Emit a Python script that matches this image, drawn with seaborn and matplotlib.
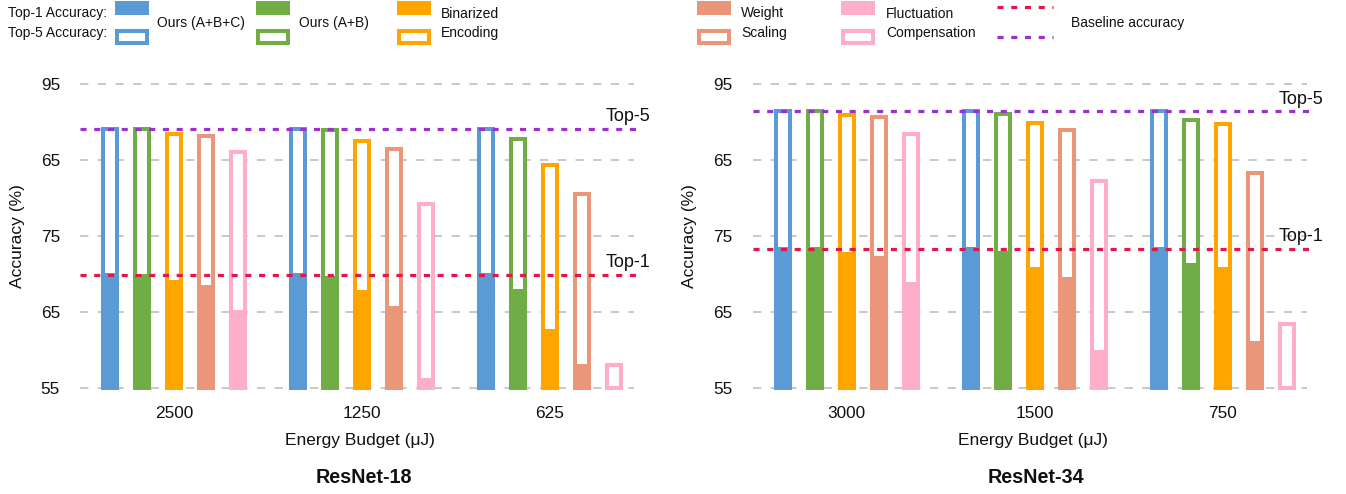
import numpy as np
import pandas as pd
import matplotlib
matplotlib.use("Agg")
import matplotlib.pyplot as plt
from matplotlib.patches import Rectangle
from matplotlib.lines import Line2D
import seaborn as sns

# ---------------------------------------------------------------- data
methods = ["Ours (A+B+C)", "Ours (A+B)", "Binarized Encoding",
           "Weight Scaling", "Fluctuation Compensation"]
colors = ["#5B9BD5", "#70AD47", "#FFA500", "#E9967A", "#FFAEC9"]

ytick_pos = [55, 65, 75, 85, 95]
ytick_labels = ["55", "65", "75", "65", "95"]

# ResNet-18 (rows follow `methods`, columns follow budgets)
r18_budgets = ["2500", "1250", "625"]
r18_top1 = [
    [70.1, 70.1, 70.1],
    [70.0, 69.7, 68.0],
    [69.2, 67.9, 62.8],
    [68.5, 65.8, 58.1],
    [65.2, 56.3, 55.0],
]
r18_top5 = [
    [89.1, 89.1, 89.1],
    [89.1, 88.9, 87.7],
    [88.4, 87.5, 84.3],
    [88.1, 86.4, 80.5],
    [86.0, 79.2, 58.0],
]
r18_base_top1 = 69.9
r18_base_top5 = 89.1

# ResNet-34
r34_budgets = ["3000", "1500", "750"]
r34_top1 = [
    [73.6, 73.6, 73.6],
    [73.6, 73.0, 71.5],
    [72.9, 70.9, 70.9],
    [72.4, 69.6, 61.2],
    [69.0, 60.0, 55.0],
]
r34_top5 = [
    [91.4, 91.4, 91.4],
    [91.4, 91.0, 90.3],
    [90.9, 89.9, 89.8],
    [90.6, 88.9, 83.3],
    [88.4, 82.2, 63.4],
]
r34_base_top1 = 73.3
r34_base_top5 = 91.4

# ---------------------------------------------------------------- style
sns.set_style("white")
plt.rcParams["font.family"] = ["Liberation Sans", "DejaVu Sans"]

W, H = 1346, 494
fig = plt.figure(figsize=(W / 100, H / 100), dpi=100)

Y0 = 55  # bars start at the bottom of the axis
RED = "#E0184A"
PURPLE = "#9B30D0"
GRID = "#C4C4C4"
INK = "#111111"


def long_frame(budgets, values, name):
    rows = []
    for m, row in zip(methods, values):
        for b, v in zip(budgets, row):
            rows.append({"budget": b, "method": m, name: v})
    return pd.DataFrame(rows)


def rebase(patches):
    for p in patches:
        top = p.get_y() + p.get_height()
        p.set_y(Y0)
        p.set_height(max(top - Y0, 0))


def draw_panel(ax, budgets, top1, top5, base1, base5, title):
    df5 = long_frame(budgets, top5, "top5")
    df1 = long_frame(budgets, top1, "top1")

    for y in ytick_pos:
        ax.axhline(y, color=GRID, lw=1.3, ls=(0, (4.6, 5.2)), zorder=1,
                   clip_on=False)

    # Top-5 as hollow bars
    sns.barplot(data=df5, x="budget", y="top5", hue="method", order=budgets,
                hue_order=methods, palette=colors, saturation=1, fill=False,
                linewidth=2.9, width=0.851, gap=0.553, errorbar=None,
                legend=False, ax=ax, zorder=2)
    hollow = list(ax.patches)
    for p in hollow:
        p.set_facecolor("white")
        p.set_clip_on(False)
    rebase(hollow)

    # Top-1 as solid bars
    sns.barplot(data=df1, x="budget", y="top1", hue="method", order=budgets,
                hue_order=methods, palette=colors, saturation=1,
                linewidth=0, width=0.851, gap=0.428, errorbar=None,
                legend=False, ax=ax, zorder=3)
    solid = [p for p in ax.patches if p not in hollow]
    rebase(solid)

    # baseline accuracy lines
    ax.axhline(base5, xmin=0, xmax=1.0145, color=PURPLE, lw=2.3,
               ls=(0, (1.9, 2.4)), zorder=5, clip_on=False)
    ax.axhline(base1, xmin=0, xmax=1.0145, color=RED, lw=2.3,
               ls=(0, (1.9, 2.4)), zorder=5, clip_on=False)
    for lab, val in (("Top-5", base5), ("Top-1", base1)):
        ax.annotate(lab, xy=(0.949, val), xycoords=("axes fraction", "data"),
                    xytext=(0, 2.5), textcoords="offset points", fontsize=13,
                    ha="left", va="bottom", color=INK)

    ax.set_xlim(-0.5, 2.447)
    ax.set_ylim(55, 95)
    ax.set_yticks(ytick_pos)
    ax.set_yticklabels(ytick_labels)
    ax.tick_params(axis="both", length=0, labelsize=12.4, colors=INK)
    ax.tick_params(axis="y", pad=14.4)
    ax.tick_params(axis="x", pad=13.0)
    for s in ax.spines.values():
        s.set_visible(False)

    ax.set_xlabel("Energy Budget (\u03bcJ)", fontsize=12.5, color=INK)
    ax.xaxis.set_label_coords(0.505, -0.149)
    ax.set_ylabel("Accuracy (%)", fontsize=12.5, color=INK)
    ax.yaxis.set_label_coords(-0.100, 0.5)
    ax.text(0.512, -0.296, title, transform=ax.transAxes, ha="center",
            va="center", fontsize=14.2, fontweight="bold", color=INK)


ax1 = fig.add_axes([80 / W, 1 - 388 / H, 554 / W, 304 / H])
ax2 = fig.add_axes([752.7 / W, 1 - 388 / H, 554 / W, 304 / H])
draw_panel(ax1, r18_budgets, r18_top1, r18_top5,
           r18_base_top1, r18_base_top5, "ResNet-18")
draw_panel(ax2, r34_budgets, r34_top1, r34_top5,
           r34_base_top1, r34_base_top5, "ResNet-34")

# ---------------------------------------------------------------- legend band
lg = fig.add_axes([0, 0, 1, 1], zorder=10)
lg.set_xlim(0, W)
lg.set_ylim(H, 0)
lg.axis("off")
lg.patch.set_alpha(0)

txt = dict(fontsize=10, color=INK, va="center", ha="left")
lg.text(8, 13.5, "Top-1 Accuracy:", **txt)
lg.text(8, 33.5, "Top-5 Accuracy:", **txt)

key_x = [115, 256, 397.3, 697, 841]
label_x = [157, 299, 441, 741, 886]
labels = [["Ours (A+B+C)"], ["Ours (A+B)"], ["Binarized", "Encoding"],
          ["Weight", "Scaling"], ["Fluctuation", "Compensation"]]
kw = 33.5
for x, lx, lab, c in zip(key_x, label_x, labels, colors):
    lg.add_patch(Rectangle((x, 1.5), kw, 13.5, facecolor=c, edgecolor="none"))
    lg.add_patch(Rectangle((x + 2, 31), kw - 4, 12, facecolor="white",
                           edgecolor=c, lw=2.9))
    if len(lab) == 1:
        lg.text(lx, 23.5, lab[0], **txt)
    else:
        lg.text(lx, 13.5, lab[0], **txt)
        lg.text(lx, 33.5, lab[1], **txt)

lg.add_line(Line2D([997, 1053], [7, 7], color=RED, lw=2.3, ls=(0, (1.9, 2.4))))
lg.add_line(Line2D([997, 1053], [37.3, 37.3], color=PURPLE, lw=2.3,
                   ls=(0, (1.9, 2.4))))
lg.text(1071, 23.5, "Baseline accuracy", **txt)

fig.savefig("out.png", dpi=100)
